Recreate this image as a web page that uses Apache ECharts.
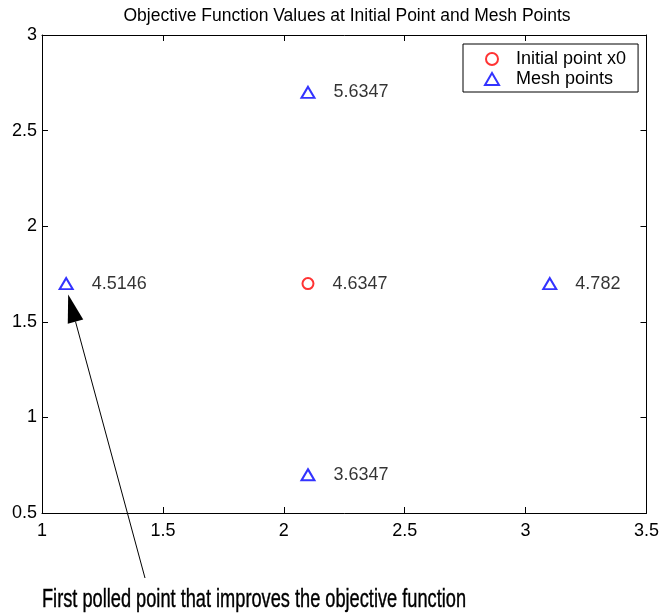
<!DOCTYPE html>
<html><head><meta charset="utf-8">
<script src="https://cdn.jsdelivr.net/npm/echarts@6/dist/echarts.min.js"></script>
<style>html,body{margin:0;padding:0;background:#fff}#c{width:662px;height:614px}</style>
</head><body><div id="c"></div>
<script>
var titleText = 'Objective Function Values at Initial Point and Mesh Points';
var initialX = [2.1], initialY = [1.7], initialVal = ['4.6347'];
var meshX = [1.1, 2.1, 3.1, 2.1];
var meshY = [1.7, 2.7, 1.7, 0.7];
var meshVal = ['4.5146', '5.6347', '4.782', '3.6347'];
var annotation = 'First polled point that improves the objective function';
var xTicks = [1, 1.5, 2, 2.5, 3, 3.5];
var yTicks = [0.5, 1, 1.5, 2, 2.5, 3];

var FONT = 'Liberation Sans';
var chart = echarts.init(document.getElementById('c'), null, {renderer: 'canvas'});
function pts(xs, ys, vs){ return xs.map(function(x,i){ return {value:[x, ys[i]], label:vs[i]}; }); }
function axisCommon(){ return {
  axisLine: {show: true, onZero: false, lineStyle: {color: '#000', width: 1}},
  axisTick: {show: true, inside: true, length: 6, lineStyle: {color: '#000'}},
  splitLine: {show: false}
};}
var labelStyle = {fontFamily: FONT, fontSize: 18, color: '#000'};
var option = {
  animation: false,
  backgroundColor: '#fff',
  title: {text: titleText, left: 342, textAlign: 'center', top: 2, textStyle: {fontFamily: FONT, fontSize: 17.5, fontWeight: 'normal', color: '#000'}},
  grid: {left: 42, right: 15, top: 35, bottom: 101, show: false},
  legend: {
    orient: 'vertical', left: 463, top: 44, itemGap: 0, itemWidth: 14, itemHeight: 12,
    padding: [5, 12, 3, 21], borderColor: '#000', borderWidth: 1, backgroundColor: '#fff',
    itemStyle: {borderWidth: 1},
    textStyle: {fontFamily: FONT, fontSize: 18, lineHeight: 20, color: '#000', padding: [0, 0, 0, 12]},
    data: [{name: 'Initial point x0', icon: 'emptyCircle'}, {name: 'Mesh points', icon: 'emptyTriangle'}]
  },
  xAxis: [
    Object.assign({type: 'value', min: xTicks[0], max: xTicks[xTicks.length-1], interval: 0.5, position: 'bottom',
      axisLabel: Object.assign({margin: 9, formatter: function(v){return String(v);}}, labelStyle)}, axisCommon()),
    Object.assign({type: 'value', min: xTicks[0], max: xTicks[xTicks.length-1], interval: 0.5, position: 'top',
      axisLabel: {show: false}}, axisCommon())
  ],
  yAxis: [
    Object.assign({type: 'value', min: yTicks[0], max: yTicks[yTicks.length-1], interval: 0.5, position: 'left',
      axisLabel: Object.assign({margin: 5, formatter: function(v){return String(v);}}, labelStyle)}, axisCommon()),
    Object.assign({type: 'value', min: yTicks[0], max: yTicks[yTicks.length-1], interval: 0.5, position: 'right',
      axisLabel: {show: false}}, axisCommon())
  ],
  series: [
    {name: 'Initial point x0', type: 'scatter', symbol: 'emptyCircle', symbolSize: 11,
     itemStyle: {color: '#ff0000', borderWidth: 1},
     label: Object.assign({show: true, position: 'right', distance: 18,
       formatter: function(p){return p.data.label;}}, labelStyle),
     data: pts(initialX, initialY, initialVal)},
    {name: 'Mesh points', type: 'scatter', symbol: 'emptyTriangle', symbolSize: [13, 11],
     itemStyle: {color: '#0000ff', borderWidth: 1},
     label: Object.assign({show: true, position: 'right', distance: 18,
       formatter: function(p){return p.data.label;}}, labelStyle),
     data: pts(meshX, meshY, meshVal)}
  ]
};
chart.setOption(option);

// annotation arrow pointing at first mesh point
var tip = chart.convertToPixel({xAxisIndex: 0, yAxisIndex: 0}, [meshX[0], meshY[0]]);
var tipPt = [tip[0] + 2, tip[1] + 11];
var tail = [145, 578];
var dx = tipPt[0] - tail[0], dy = tipPt[1] - tail[1];
var len = Math.sqrt(dx*dx + dy*dy); var ux = dx/len, uy = dy/len;
var headLen = 28, headW = 8;
var base = [tipPt[0] - ux*headLen, tipPt[1] - uy*headLen];
var px = -uy, py = ux;
// condensed annotation text: measure and squeeze horizontally
var annSize = 25;
var ctx = document.createElement('canvas').getContext('2d');
ctx.font = annSize + 'px "' + FONT + '"';
var annW = ctx.measureText(annotation).width;
var targetW = 424;
chart.setOption({graphic: [
  {type: 'line', shape: {x1: tail[0], y1: tail[1], x2: base[0], y2: base[1]}, style: {stroke: '#000', lineWidth: 1}},
  {type: 'polygon', shape: {points: [tipPt, [base[0]+px*headW, base[1]+py*headW], [base[0]-px*headW, base[1]-py*headW]]}, style: {fill: '#000'}},
  {type: 'text', x: 42, y: 600, scaleX: targetW / annW, originX: 0,
   style: {x: 0, y: 0, text: annotation, fontFamily: FONT, fontSize: annSize, fill: '#000', stroke: '#000', lineWidth: 0.4, verticalAlign: 'middle', align: 'left'}}
]});
</script></body></html>
